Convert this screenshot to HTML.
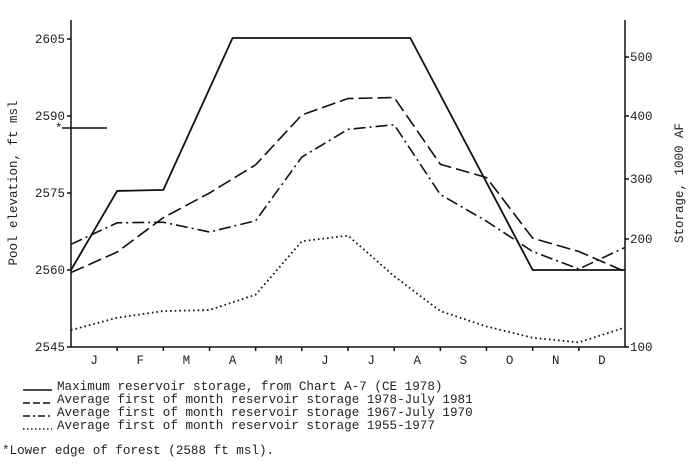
<!DOCTYPE html>
<html><head><meta charset="utf-8"><style>
body{margin:0;background:#fff}
svg text{font-family:"Liberation Mono",monospace;fill:#222}
</style></head><body>
<svg width="691" height="462" viewBox="0 0 691 462">
<g id="axes" stroke="#111" stroke-width="1.5" fill="none"></g>
<g id="series" fill="none" stroke="#111"></g>
<g id="labels"></g>
</svg>
<script>
const months=["J","F","M","A","M","J","J","A","S","O","N","D"];
const leftTicks=[2545,2560,2575,2590,2605];
const rightTicks=[100,200,300,400,500];
const rightTickY=[347,239,179,116,57];
const maxX=[0,1,2,3.5,7.35,10,12];
const maxY=[2560,2575.4,2575.6,2605.2,2605.2,2560,2560];
const s78X=[0,1,2,3,4,5,6,7,8,9,10,11,12];
const s78Y=[2559.5,2563.5,2570.2,2575,2580.5,2590.2,2593.4,2593.6,2580.6,2578,2566.2,2563.6,2559.7];
const s67Y=[2565,2569.2,2569.3,2567.4,2569.6,2582,2587.4,2588.3,2574.7,2569.5,2563.6,2560.2,2564.4];
const s55Y=[2548.3,2550.7,2552,2552.2,2555.2,2565.6,2566.7,2558.8,2552,2549,2546.8,2545.9,2548.8];
const NS="http://www.w3.org/2000/svg";
const x0=71,x1=625,yTop=20,yBot=347;
const xs=m=>x0+m*(x1-x0)/12;
const ys=v=>yBot-(v-2545)*(yBot-39)/60;
function mk(t,p,a){const e=document.createElementNS(NS,t);for(const k in a)e.setAttribute(k,a[k]);p.appendChild(e);return e;}
const ax=document.getElementById('axes'),sr=document.getElementById('series'),lb=document.getElementById('labels');
let e;
e=mk('line',ax,{x1:x0,y1:yTop,x2:x0,y2:yBot});


e=mk('line',ax,{x1:x1,y1:yTop,x2:x1,y2:yBot});


e=mk('line',ax,{x1:x0,y1:yBot,x2:x1,y2:yBot});


leftTicks.forEach(v=>{
 mk('line',ax,{x1:x0-4,y1:ys(v),x2:x0,y2:ys(v)});
 e=mk('text',lb,{x:x0-6,y:ys(v)+4,'text-anchor':'end','font-size':12.5});
 e.textContent=v;
 
 
});
rightTicks.forEach((v,i)=>{
 mk('line',ax,{x1:x1,y1:rightTickY[i],x2:x1+4,y2:rightTickY[i]});
 e=mk('text',lb,{x:x1+5,y:rightTickY[i]+4,'font-size':12.5});
 e.textContent=v;
 
 
});
months.forEach((m,i)=>{
 if(i>0) mk('line',ax,{x1:xs(i),y1:yBot,x2:xs(i),y2:yBot+4});
 e=mk('text',lb,{x:xs(i+0.5),y:yBot+17,'text-anchor':'middle','font-size':12.5});
 e.textContent=m;
 
 
});
function line(X,Y,dash,name,w){
 e=mk('polyline',sr,{points:X.map((x,i)=>xs(x)+','+ys(Y[i])).join(' '),'stroke-width':w||1.6,'stroke-dasharray':dash});
 
 
}
line(maxX,maxY,'none','max-storage-line',1.8);
line(s78X,s78Y,'14 5','storage-1978-1981-line');
line(s78X,s67Y,'12 4 2 4','storage-1967-1970-line');
line(s78X,s55Y,'1.6 3','storage-1955-1977-line',1.8);
mk('line',ax,{x1:62,y1:128,x2:107,y2:128});
e=mk('text',lb,{x:55,y:132,'font-size':12.5});e.textContent='*';


e=mk('text',lb,{x:0,y:0,'font-size':12.5,transform:'translate(17,183) rotate(-90)','text-anchor':'middle'});
e.textContent='Pool elevation, ft msl';


e=mk('text',lb,{x:0,y:0,'font-size':12.5,transform:'translate(683,183) rotate(-90)','text-anchor':'middle'});
e.textContent='Storage, 1000 AF';


const leg=[['none','Maximum reservoir storage, from Chart A-7 (CE 1978)'],['7 3','Average first of month reservoir storage 1978-July 1981'],['7 3 2 3','Average first of month reservoir storage 1967-July 1970'],['1.5 2.5','Average first of month reservoir storage 1955-1977']];
leg.forEach((l,i)=>{
 const y=390+i*13;
 mk('line',sr,{x1:23,y1:y,x2:52,y2:y,'stroke-width':1.4,'stroke-dasharray':l[0]});
 e=mk('text',lb,{x:57,y:y,'font-size':12.6});
 e.textContent=l[1];
 
 
});
e=mk('text',lb,{x:2,y:454,'font-size':12.6});
e.textContent='*Lower edge of forest (2588 ft msl).';


</script>
</body></html>
